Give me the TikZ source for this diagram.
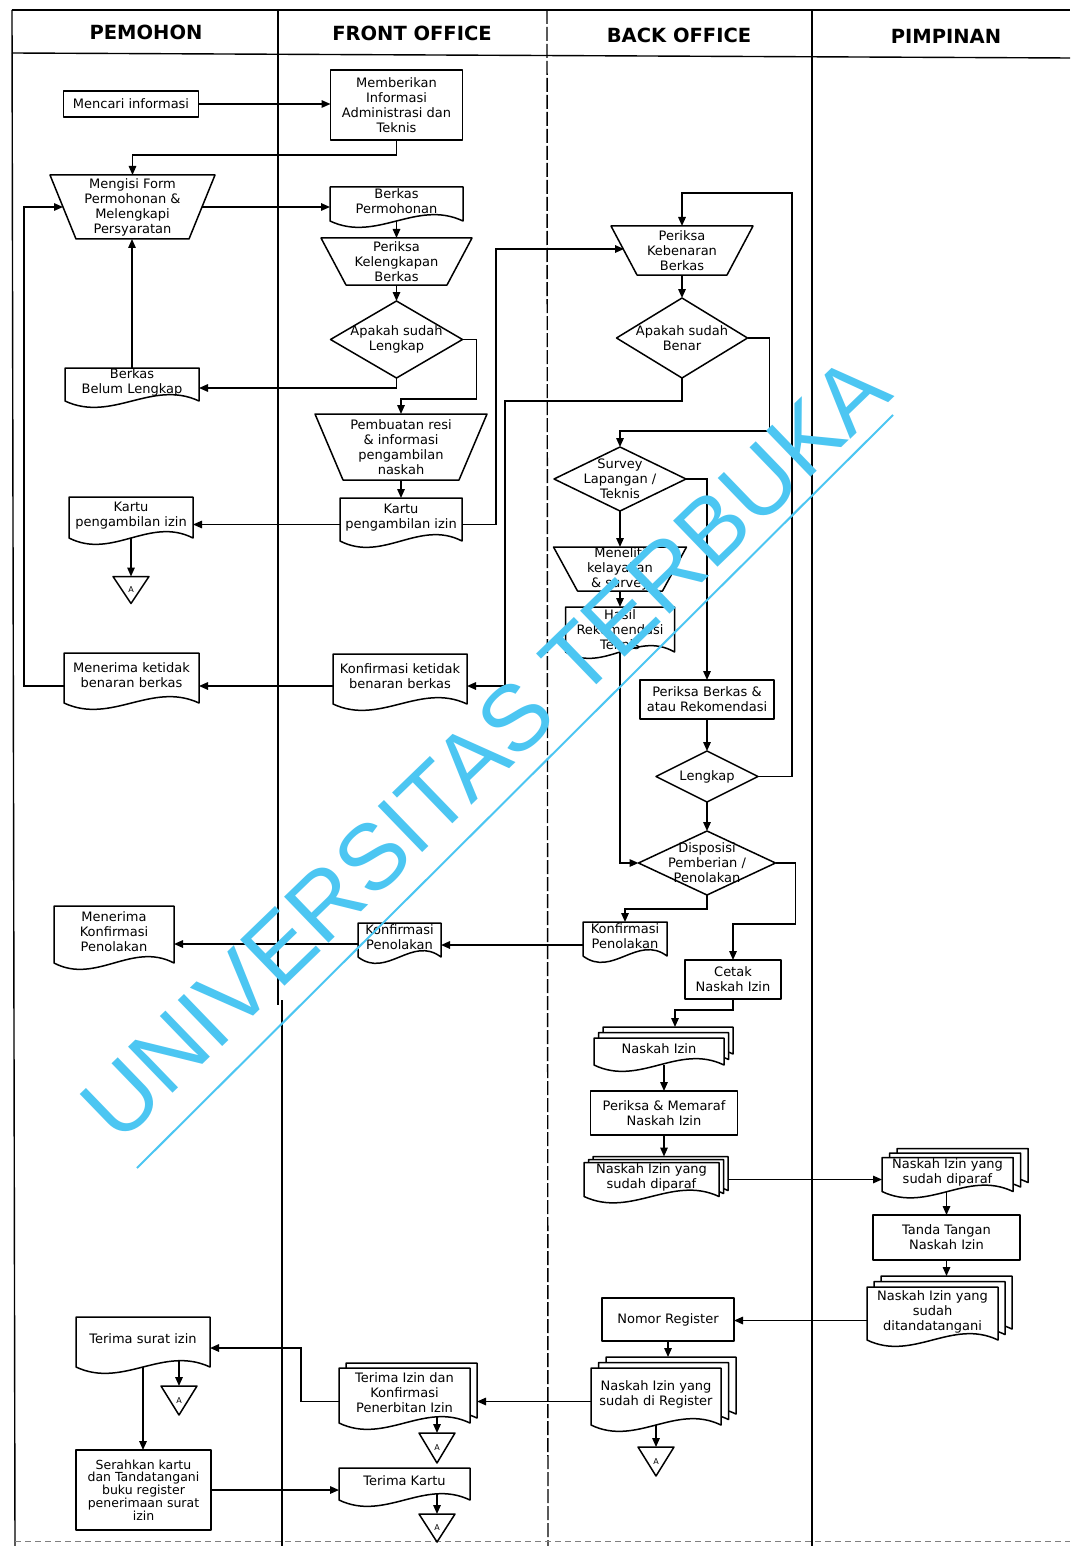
\documentclass[tikz,border=0pt]{standalone}
\usepackage{fontspec}
\setmainfont{DejaVu Sans}
\newfontfamily\wmfont{Liberation Sans}
\usetikzlibrary{arrows.meta,calc}
\pgfdeclarelayer{bg}
\pgfsetlayers{bg,main}
\definecolor{wmblue}{RGB}{76,198,242}
\newcommand\dwave{22}
\newcommand\docoutat[3]{\filldraw[shp] ($(#1.north west)+(#2,#3)$) -- ($(#1.north east)+(#2,#3)$) -- ($(#1.south east)+(#2,#3)$) .. controls ($(#1.south west)!0.65!(#1.south east)+(#2,#3-\dwave)$) and ($(#1.south west)!0.35!(#1.south east)+(#2,#3+\dwave)$) .. ($(#1.south west)+(#2,#3)$) -- cycle;}
\newcommand\docout[1]{\docoutat{#1}{0}{0}}
\newcommand\mdocout[5]{\docoutat{#1}{#4}{#5}\docoutat{#1}{#2}{#3}\docoutat{#1}{0}{0}}
\newcommand\trapout[2]{\filldraw[shp] (#1.north west) -- (#1.north east) -- ($(#1.south east)+(-#2,0)$) -- ($(#1.south west)+(#2,0)$) -- cycle;}
\newcommand\diaout[1]{\filldraw[shp] (#1.north) -- (#1.east) -- (#1.south) -- (#1.west) -- cycle;}
\newcommand\rectout[1]{\filldraw[shp] (#1.north west) rectangle (#1.south east);}
\newcommand\triout[1]{\filldraw[shp] (#1.north west) -- (#1.north east) -- (#1.south) -- cycle;}
\newcommand\nd[6]{\node[box, minimum width=#4, minimum height=#5] (#1) at (#2,#3) {#6};}
\newcommand\ndd[6]{\node[box, text depth=6pt, minimum width=#4, minimum height=#5] (#1) at (#2,#3) {#6};}
\tikzset{
 box/.style={rectangle, draw=none, inner sep=0pt, outer sep=0pt, align=center, font=\fontsize{13}{15}\selectfont},
 tri/.style={box, font=\fontsize{8}{8}\selectfont},
 shp/.style={draw=black, fill=white, line width=1.5pt, line join=round},
 arr/.style={draw=black, line width=1.5pt, -{Triangle[length=9pt,width=7.5pt]}},
 lane/.style={draw=black, line width=1.4pt},
 hdr/.style={font=\fontsize{19.5}{22}\selectfont\bfseries, inner sep=0pt},
}
\begin{document}
\begin{tikzpicture}[x=1pt,y=-1pt]
\useasboundingbox (0,0) rectangle (1070,1546);
\begin{pgfonlayer}{bg}
\fill[white] (0,0) rectangle (1070,1546);
\draw[lane] (12,10) -- (1070,10);
\draw[lane] (12,53) -- (1070,58);
\draw[lane] (12,10) -- (15,1546);
\draw[lane] (278,10) -- (278,1005);
\draw[lane] (282,1000) -- (282,1546);
\draw[lane, dash pattern=on 14pt off 3pt] (547,10) -- (548,1546);
\draw[lane] (812,10) -- (812,1546);
\draw[gray, line width=0.8pt, dash pattern=on 6pt off 4pt] (15,1541) -- (1070,1541);
\end{pgfonlayer}
% headers
\node[hdr] (hPem) at (146,32) {PEMOHON};
\node[hdr] (hFront) at (412,33) {FRONT OFFICE};
\node[hdr] (hBack) at (679,35) {BACK OFFICE};
\node[hdr] (hPim) at (946,36) {PIMPINAN};
% PEMOHON
\nd{mencari}{131}{104}{135}{26}{Mencari informasi}
\nd{mengisi}{132.5}{207}{165}{64}{Mengisi Form\\Permohonan \&\\Melengkapi\\Persyaratan}
\ndd{belum}{132}{384.5}{134}{33}{Berkas\\Belum Lengkap}
\ndd{kartuL}{131}{517.5}{124}{41}{Kartu\\pengambilan izin}
\node[tri, minimum width=36, minimum height=27] (triL) at (131,590) {A};
\ndd{menerimaK}{131.5}{678}{135}{50}{Menerima ketidak\\benaran berkas}
\ndd{menerimaP}{114}{934.5}{120}{57}{Menerima\\Konfirmasi\\Penolakan}
\ndd{terimaS}{143}{1342}{134}{50}{Terima surat izin}
\node[tri, minimum width=36, minimum height=29] (triS) at (179,1400.5) {A};
\node[box, font=\fontsize{12.5}{12.8}\selectfont, minimum width=135, minimum height=80] (serahkan) at (143.5,1490) {Serahkan kartu\\dan Tandatangani\\buku register\\penerimaan surat\\izin};
% FRONT OFFICE
\nd{memberikan}{396.5}{105}{132}{70}{Memberikan\\Informasi\\Administrasi dan\\Teknis}
\ndd{berkasP}{396.5}{204}{133}{34}{Berkas\\Permohonan}
\nd{periksaK}{396.5}{261.5}{151}{47}{Periksa\\Kelengkapan\\Berkas}
\nd{apakahL}{396.5}{339.5}{132}{77}{Apakah sudah\\Lengkap}
\nd{pembuatan}{401}{447}{172}{66}{Pembuatan resi\\\& informasi\\pengambilan\\naskah}
\ndd{kartuF}{401}{519.5}{122}{43}{Kartu\\pengambilan izin}
\ndd{konfK}{400}{679}{134}{50}{Konfirmasi ketidak\\benaran berkas}
\ndd{konfPF}{399.5}{940}{83}{34}{Konfirmasi\\Penolakan}
\ndd{terimaI}{404.5}{1395.5}{131}{55}{Terima Izin dan\\Konfirmasi\\Penerbitan Izin}
\node[tri, minimum width=36, minimum height=30] (triF1) at (437,1448) {A};
\ndd{terimaKartu}{404.5}{1484}{131}{32}{Terima Kartu}
\node[tri, minimum width=36, minimum height=28] (triF2) at (437,1528) {A};
% BACK OFFICE
\nd{periksaB}{682}{250.5}{142}{49}{Periksa\\Kebenaran\\Berkas}
\nd{apakahB}{682}{338}{131}{80}{Apakah sudah\\Benar}
\nd{survey}{620}{479}{132}{64}{Survey\\Lapangan /\\Teknis}
\nd{meneliti}{620}{569}{133}{44}{Meneliti\\kelayakan\\\& survey}
\nd{hasil}{620}{629.5}{109}{45}{Hasil\\Rekomendasi\\Teknis}
\nd{periksaBR}{707}{699.5}{134}{39}{Periksa Berkas \&\\atau Rekomendasi}
\nd{lengkap}{707}{776.5}{102}{51}{Lengkap}
\nd{disposisi}{707}{863}{137}{64}{Disposisi\\Pemberian /\\Penolakan}
\ndd{konfPB}{625}{939}{84}{34}{Konfirmasi\\Penolakan}
\nd{cetak}{733}{979.5}{96}{39}{Cetak\\Naskah Izin}
\ndd{naskah}{659}{1051.5}{130}{27}{Naskah Izin}
\nd{memaraf}{664}{1113}{147}{44}{Periksa \& Memaraf\\Naskah Izin}
\ndd{diparafB}{651.5}{1179.5}{135}{34}{Naskah Izin yang\\sudah diparaf}
\nd{nomor}{668}{1319.5}{132}{43}{Nomor Register}
\ndd{register}{656}{1396.5}{130}{57}{Naskah Izin yang\\sudah di Register}
\node[tri, minimum width=36, minimum height=29] (triB) at (656,1461.5) {A};
% PIMPINAN
\ndd{diparafP}{947.5}{1174.5}{131}{34}{Naskah Izin yang\\sudah diparaf}
\nd{tanda}{946.5}{1237.5}{147}{45}{Tanda Tangan\\Naskah Izin}
\ndd{ttd}{932.5}{1313.5}{131}{53}{Naskah Izin yang\\sudah\\ditandatangani}
% outlines
\begin{pgfonlayer}{bg}
\rectout{mencari}
\trapout{mengisi}{26}
\docout{belum}
\docout{kartuL}
\triout{triL}
\docout{menerimaK}
\docout{menerimaP}
\docout{terimaS}
\triout{triS}
\rectout{serahkan}
\rectout{memberikan}
\docout{berkasP}
\trapout{periksaK}{25}
\diaout{apakahL}
\trapout{pembuatan}{28}
\docout{kartuF}
\docout{konfK}
\docout{konfPF}
\docoutat{terimaI}{7}{-5}\docout{terimaI}
\triout{triF1}
\docout{terimaKartu}
\triout{triF2}
\trapout{periksaB}{26}
\diaout{apakahB}
\diaout{survey}
\trapout{meneliti}{24}
\docout{hasil}
\rectout{periksaBR}
\diaout{lengkap}
\diaout{disposisi}
\docout{konfPB}
\rectout{cetak}
\mdocout{naskah}{4.5}{-5.5}{9}{-11}
\rectout{memaraf}
\mdocout{diparafB}{4.5}{-3}{9}{-6}
\rectout{nomor}
\mdocout{register}{7.5}{-5.5}{15}{-11}
\triout{triB}
\mdocout{diparafP}{7.5}{-4.5}{15}{-9}
\rectout{tanda}
\mdocout{ttd}{7}{-5.5}{14}{-11}
\end{pgfonlayer}
% connectors
\draw[arr] (mencari.east) -- (mencari.east -| memberikan.west);
\draw[arr] (memberikan.south) -- ++(0,15) -| (mengisi.north);
\draw[arr] ($(mengisi.east)+(-13,0)$) -- (mengisi.east -| berkasP.west);
\draw[arr] (berkasP.south) -- (berkasP.south |- periksaK.north);
\draw[arr] (periksaK.south) -- (periksaK.south |- apakahL.north);
\path (apakahL.south) ++(0,10) coordinate (f1);
\draw[arr] (apakahL.south) -- (f1) -- (f1 -| belum.east);
\draw[arr] (apakahL.east) -- ++(14,0) |- ($(pembuatan.north)+(0,-15)$) -- (pembuatan.north);
\draw[arr] (belum.north) -- (belum.north |- mengisi.south);
\draw[arr] (pembuatan.south) -- (pembuatan.south |- kartuF.north);
\path (kartuF.west) ++(0,5) coordinate (j1);
\draw[arr] (j1) -- (j1 -| kartuL.east);
\draw[arr] (kartuL.south) -- (kartuL.south |- triL.north);
\path (kartuF.east) ++(0,5) coordinate (l0);
\draw[arr] (l0) -- ++(34,0) |- ($(periksaB.west)+(13,-1.5)$);
\draw[arr] (periksaB.south) -- (periksaB.south |- apakahB.north);
\path (konfK.east) ++(0,7) coordinate (n0);
\draw[arr] (apakahB.south) -- ++(0,23) -| ($(n0)+(38,0)$) -- (n0);
\draw[arr] (apakahB.east) -- ++(22,0) |- ($(survey.north)+(0,-16)$) -- (survey.north);
\path (konfK.west) ++(0,7) coordinate (p0);
\draw[arr] (p0) -- (p0 -| menerimaK.east);
\path (menerimaK.west) ++(0,8) coordinate (q0);
\draw[arr] (q0) -- ++(-40,0) |- ($(mengisi.west)+(13,0)$);
\draw[arr] (survey.south) -- (survey.south |- meneliti.north);
\draw[arr] (survey.east) -| (periksaBR.north);
\draw[arr] (meneliti.south) -- (meneliti.south |- hasil.north);
\draw[arr] (hasil.south) |- (disposisi.west);
\draw[arr] (periksaBR.south) -- (periksaBR.south |- lengkap.north);
\draw[arr] (lengkap.east) -- ++(34,0) |- ($(periksaB.north)+(0,-33)$) -- (periksaB.north);
\draw[arr] (lengkap.south) -- (lengkap.south |- disposisi.north);
\draw[arr] (disposisi.south) -- ++(0,14) -| (konfPB.north);
\draw[arr] (disposisi.east) -- ++(20,0) |- ($(cetak.north)+(0,-36)$) -- (cetak.north);
\path (konfPB.west) ++(0,6) coordinate (aa0);
\draw[arr] (aa0) -- (aa0 -| konfPF.east);
\path (konfPF.west) ++(0,4) coordinate (bb0);
\draw[arr] (bb0) -- (bb0 -| menerimaP.east);
\draw[arr] (cetak.south) -- ++(0,11) -| ($(naskah.north)+(16,-11)$);
\path (memaraf.north |- naskah.south) coordinate (dd0);
\draw[arr] (dd0) -- (memaraf.north);
\path (memaraf.south |- diparafB.north) ++(0,-6) coordinate (ee1);
\draw[arr] (memaraf.south) -- (ee1);
\path (diparafB.east) ++(9,0) coordinate (ff0);
\draw[arr] (ff0) -- (ff0 -| diparafP.west);
\path (tanda.north |- diparafP.south) coordinate (gg0);
\draw[arr] (gg0) -- (tanda.north);
\path (tanda.south |- ttd.north) ++(0,-11) coordinate (hh0);
\draw[arr] (tanda.south) -- (hh0);
\path (ttd.west) ++(0,7) coordinate (ii0);
\draw[arr] (ii0) -- (ii0 -| nomor.east);
\path (nomor.south |- register.north) ++(0,-11) coordinate (jj0);
\draw[arr] (nomor.south) -- (jj0);
\draw[arr] (register.south) -- (register.south |- triB.north);
\path (terimaI.east) ++(7,0) coordinate (ll1);
\path (register.west) ++(0,5) coordinate (ll0);
\draw[arr] (ll0) -- (ll0 -| ll1);
\path (terimaI.west) ++(0,6) coordinate (mm0);
\path (terimaS.east) ++(0,6) coordinate (mm1);
\draw[arr] (mm0) -- ++(-38,0) |- (mm1);
\path (triF1.north |- terimaI.south) ++(0,-7) coordinate (nn0);
\draw[arr] (nn0) -- (triF1.north);
\path (triS.north |- terimaS.south) ++(0,-7) coordinate (oo0);
\draw[arr] (oo0) -- (triS.north);
\draw[arr] (terimaS.south) -- (terimaS.south |- serahkan.north);
\draw[arr] (serahkan.east) -- (serahkan.east -| terimaKartu.west);
\path (triF2.north |- terimaKartu.south) ++(0,-7) coordinate (qq0);
\draw[arr] (qq0) -- (triF2.north);
% watermark
\node[text=wmblue, rotate=44, inner sep=0pt, font=\wmfont\fontsize{93}{93}\selectfont] (wm) at (485,748) {UNIVERSITAS TERBUKA};
\draw[wmblue, line width=2pt] (137,1168) -- (893,415);
\end{tikzpicture}
\end{document}
